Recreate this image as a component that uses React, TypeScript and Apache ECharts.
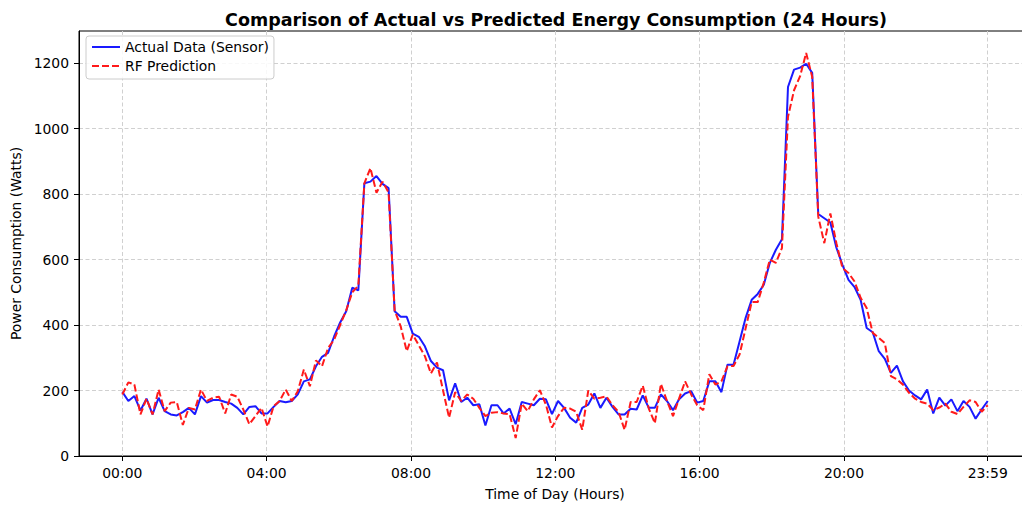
import React, { useEffect, useRef } from "react";
import * as echarts from "echarts";

const TITLE = "Comparison of Actual vs Predicted Energy Consumption (24 Hours)";
const X_LABEL = "Time of Day (Hours)";
const Y_LABEL = "Power Consumption (Watts)";
const ACTUAL_NAME = "Actual Data (Sensor)";
const PRED_NAME = "RF Prediction";

// tick positions in minutes since midnight
const X_TICKS = [0, 240, 480, 720, 960, 1200, 1439];
const Y_TICKS = [0, 200, 400, 600, 800, 1000, 1200];

const DAY_END_MIN = 1439;
const N_SAMPLES = 144;

const ACTUAL = [
  196, 168, 183, 139, 175, 127, 178, 137, 127, 124, 134, 147, 127, 183, 163, 171, 171, 165, 160, 147,
  127, 150, 152, 130, 130, 150, 168, 164, 168, 188, 228, 234, 274, 303, 315, 365, 408, 442, 514, 506,
  833, 838, 855, 831, 818, 442, 425, 425, 374, 364, 335, 290, 270, 262, 170, 222, 165, 178, 155, 158,
  93, 155, 155, 130, 145, 97, 165, 160, 155, 175, 173, 128, 168, 147, 117, 102, 147, 157, 191, 147,
  178, 150, 127, 127, 144, 142, 185, 147, 147, 188, 168, 140, 173, 191, 198, 163, 168, 228, 228, 195,
  279, 279, 350, 422, 477, 495, 523, 590, 630, 662, 1127, 1180, 1186, 1198, 1170, 739, 726, 713, 636, 584,
  538, 516, 477, 391, 378, 320, 297, 254, 276, 228, 200, 185, 173, 203, 130, 178, 154, 173, 137, 168,
  150, 114, 142, 168,
];

const PREDICTED = [
  188, 225, 218, 127, 175, 127, 203, 137, 163, 165, 95, 147, 142, 203, 168, 178, 181, 130, 188, 181,
  142, 97, 122, 147, 90, 152, 168, 203, 168, 198, 264, 213, 292, 274, 330, 355, 400, 445, 500, 520,
  833, 879, 804, 838, 805, 445, 396, 320, 371, 338, 305, 252, 286, 200, 117, 195, 168, 188, 175, 147,
  122, 132, 134, 130, 128, 55, 160, 137, 173, 201, 157, 87, 122, 147, 145, 135, 80, 200, 175, 178,
  182, 155, 135, 80, 165, 165, 215, 145, 100, 220, 168, 122, 175, 228, 188, 155, 140, 250, 218, 228,
  274, 275, 310, 390, 470, 470, 530, 600, 590, 635, 1036, 1117, 1160, 1231, 1158, 731, 650, 741, 650, 574,
  559, 533, 483, 452, 376, 361, 345, 244, 234, 218, 193, 175, 165, 160, 140, 148, 160, 135, 128, 150,
  170, 165, 135, 155,
];

// sample timestamps (minutes), evenly spanning 00:00 .. 23:59
const SAMPLE_TIMES = Array.from({ length: N_SAMPLES }, (_, i) => (i * DAY_END_MIN) / (N_SAMPLES - 1));

const FONT = "DejaVu Sans";

const fmtTime = (m: number) => {
  const h = Math.floor(m / 60);
  const mm = Math.round(m - h * 60);
  return String(h).padStart(2, "0") + ":" + String(mm).padStart(2, "0");
};

export default function App() {
  const ref = useRef<HTMLDivElement>(null);

  useEffect(() => {
    if (!ref.current) return;
    const chart = echarts.init(ref.current, undefined, { renderer: "svg" });
    const axisText = { fontFamily: FONT, fontSize: 13.9, color: "#000" };
    chart.setOption({
      animation: false,
      backgroundColor: "#ffffff",
      textStyle: { fontFamily: FONT },
      title: {
        text: TITLE,
        left: 551,
        top: 6,
        textAlign: "center",
        textStyle: { fontFamily: FONT, fontWeight: "bold", fontSize: 17.5, color: "#000" },
      },
      legend: {
        orient: "vertical",
        left: 86,
        top: 36,
        padding: [4, 5, 6, 5],
        itemWidth: 28,
        itemHeight: 14,
        itemGap: 5,
        itemTextGap: 10,
        selectedMode: false,
        itemStyle: { opacity: 0 },
        backgroundColor: "rgba(255,255,255,0.85)",
        borderColor: "#cccccc",
        borderWidth: 1,
        borderRadius: 3,
        textStyle: { fontFamily: FONT, fontSize: 13.9, color: "#000" },
        data: [ACTUAL_NAME, PRED_NAME],
      },
      grid: {
        left: 79,
        top: 31,
        width: 952,
        height: 426,
        show: true,
        borderColor: "#000",
        borderWidth: 1,
        backgroundColor: "transparent",
      },
      xAxis: {
        type: "value",
        min: -72,
        max: DAY_END_MIN + 72,
        name: X_LABEL,
        nameLocation: "middle",
        nameGap: 31,
        nameTextStyle: { fontFamily: FONT, fontSize: 13.9, color: "#000" },
        axisLine: { show: true, onZero: false, lineStyle: { color: "#000", width: 1 } },
        axisTick: { show: true, customValues: X_TICKS, length: 5, lineStyle: { color: "#000" } },
        axisLabel: { ...axisText, customValues: X_TICKS, margin: 10, formatter: (v: number) => fmtTime(v) },
        splitLine: { show: true, lineStyle: { color: "#d0d0d0", width: 1, type: [4, 2.5] } },
      },
      yAxis: {
        type: "value",
        min: 0,
        max: 1298,
        name: Y_LABEL,
        nameLocation: "middle",
        nameGap: 52,
        nameTextStyle: { fontFamily: FONT, fontSize: 13.9, color: "#000" },
        axisLine: { show: true, onZero: false, lineStyle: { color: "#000", width: 1 } },
        axisTick: { show: true, customValues: Y_TICKS, length: 5, lineStyle: { color: "#000" } },
        axisLabel: { ...axisText, customValues: Y_TICKS, margin: 10, formatter: (v: number) => String(v) },
        splitLine: { show: true, lineStyle: { color: "#d0d0d0", width: 1, type: [4, 2.5] } },
      },
      series: [
        {
          name: ACTUAL_NAME,
          type: "line",
          data: SAMPLE_TIMES.map((t, i) => [t, ACTUAL[i]]),
          symbol: "none",
          lineStyle: { color: "#1a1aff", width: 2 },
          itemStyle: { color: "#1a1aff" },
          z: 2,
        },
        {
          name: PRED_NAME,
          type: "line",
          data: SAMPLE_TIMES.map((t, i) => [t, PREDICTED[i]]),
          symbol: "none",
          lineStyle: { color: "#ff1a1a", width: 2, type: [7, 3] },
          itemStyle: { color: "#ff1a1a" },
          z: 3,
        },
      ],
    });
    return () => chart.dispose();
  }, []);

  return (
    <div style={{ position: "fixed", left: 0, top: 0, width: 1022, height: 506, overflow: "hidden" }}>
      <div ref={ref} style={{ position: "absolute", left: 0, top: 0, width: 1060, height: 506 }} />
    </div>
  );
}
